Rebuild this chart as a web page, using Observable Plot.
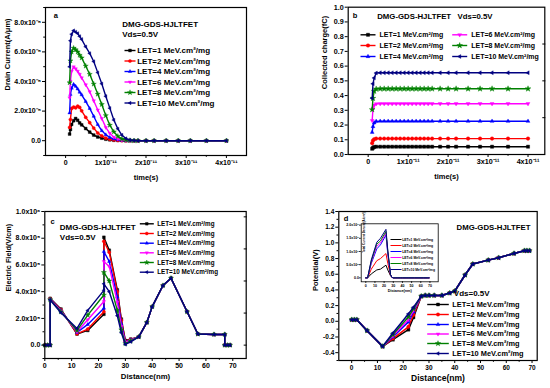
<!DOCTYPE html>
<html><head><meta charset="utf-8">
<script src="https://cdn.jsdelivr.net/npm/d3@7"></script>
<script src="https://cdn.jsdelivr.net/npm/@observablehq/plot@0.6"></script>
<style>
html,body{margin:0;padding:0;background:#fff;}
#wrap{position:relative;width:550px;height:388px;overflow:hidden;background:#fff;}
#wrap > div{position:absolute;}
svg{overflow:visible;}
</style></head><body><div id="wrap"></div>
<script>
// ---------- shared series info ----------
const letLabels = ["LET=1 MeV.cm²/mg","LET=2 MeV.cm²/mg","LET=4 MeV.cm²/mg","LET=6 MeV.cm²/mg","LET=8 MeV.cm²/mg","LET=10 MeV.cm²/mg"];
const seriesColors = ["#000000","#ff0000","#0000ff","#ff00ff","#008000","#000080"];
const seriesSymbols = ["square","circle","up","down","star","left"];

// ---------- panel a : drain current vs time ----------
const timeA = [0.1,0.12,0.15,0.2,0.25,0.3,0.35,0.4,0.5,0.6,0.7,0.8,0.9,1.0,1.1,1.2,1.3,1.4,1.5,1.6,1.7,1.8,2.0,2.2,2.5,2.8,3.1,3.5,4.0]; // x1e-11 s
const currentLET1  = [0.45,0.75,1.1,1.35,1.5,1.38,1.2,1.07,0.82,0.58,0.38,0.25,0.17,0.1,0.06,0.03,0.02,0.01, 0,0,0,0,0,0,0,0,0,0,0]; // x1e-5 A/um
const currentLET2  = [0.9,1.43,2.18,2.27,2.22,2.33,2.25,2.02,1.58,1.22,0.85,0.52,0.32,0.17,0.09,0.05,0.02,0.01, 0,0,0,0,0,0,0,0,0,0,0];
const currentLET4  = [1.88,3.13,3.55,3.81,3.68,3.5,3.28,3.1,2.65,2.18,1.65,1.09,0.68,0.4,0.22,0.11,0.06,0.03,0.01, 0,0,0,0,0,0,0,0,0,0];
const currentLET6  = [2.9,4.03,4.7,4.99,4.86,4.7,4.49,4.25,3.78,3.31,2.7,2.08,1.5,0.9,0.5,0.24,0.11,0.05,0.02, 0,0,0,0,0,0,0,0,0,0];
const currentLET8  = [3.92,5.4,6.0,6.26,6.15,6.0,5.78,5.6,5.05,4.49,3.83,3.15,2.45,1.7,1.05,0.6,0.3,0.12,0.05,0.02, 0,0,0,0,0,0,0,0,0];
const currentLET10 = [4.99,6.76,7.2,7.44,7.35,7.25,7.05,6.85,6.35,5.9,5.35,4.6,3.85,3.0,2.2,1.4,0.8,0.38,0.15,0.05,0.02, 0,0,0,0,0,0,0,0];
const currentTicks = [0,2e-5,4e-5,6e-5,8e-5];
const currentTickLabels = ["0.0","2.0x10⁻⁵","4.0x10⁻⁵","6.0x10⁻⁵","8.0x10⁻⁵"];
const currentMinor = [-1e-5,1e-5,3e-5,5e-5,7e-5,9e-5];
const timeTicks = [0,1e-11,2e-11,3e-11,4e-11];
const timeTickLabels = ["0","1x10⁻¹¹","2x10⁻¹¹","3x10⁻¹¹","4x10⁻¹¹"];
const timeMinor = [0.5e-11,1.5e-11,2.5e-11,3.5e-11];

// ---------- panel b : collected charge vs time ----------
const timeB = [0.1,0.12,0.15,0.2,0.3,0.4,0.5,0.6,0.7,0.8,0.9,1.0,1.1,1.2,1.3,1.4,1.5,1.6,1.8,2.0,2.2,2.5,2.8,3.1,3.5,4.0]; // x1e-11 s
const chargeLET1  = [0.039,0.046,0.051,0.053, 0.053,0.053,0.053,0.053,0.053,0.053,0.053,0.053,0.053,0.053,0.053,0.053,0.053,0.053,0.053,0.053,0.053,0.053,0.053,0.053,0.053,0.053];
const chargeLET2  = [0.077,0.095,0.104,0.108, 0.108,0.108,0.108,0.108,0.108,0.108,0.108,0.108,0.108,0.108,0.108,0.108,0.108,0.108,0.108,0.108,0.108,0.108,0.108,0.108,0.108,0.108];
const chargeLET4  = [0.151,0.19,0.215,0.225, 0.226,0.226,0.226,0.226,0.226,0.226,0.226,0.226,0.226,0.226,0.226,0.226,0.226,0.226,0.226,0.226,0.226,0.226,0.226,0.226,0.226,0.226];
const chargeLET6  = [0.23,0.31,0.335,0.344, 0.345,0.345,0.345,0.345,0.345,0.345,0.345,0.345,0.345,0.345,0.345,0.345,0.345,0.345,0.345,0.345,0.345,0.345,0.345,0.345,0.345,0.345];
const chargeLET8  = [0.305,0.382,0.43,0.445, 0.446,0.446,0.446,0.446,0.446,0.446,0.446,0.446,0.446,0.446,0.446,0.446,0.446,0.446,0.446,0.446,0.446,0.446,0.446,0.446,0.446,0.446];
const chargeLET10 = [0.382,0.48,0.52,0.553, 0.555,0.555,0.555,0.555,0.555,0.555,0.555,0.555,0.555,0.555,0.555,0.555,0.555,0.555,0.555,0.555,0.555,0.555,0.555,0.555,0.555,0.555];
const chargeTicks = [0,0.1,0.2,0.3,0.4,0.5,0.6,0.7,0.8,0.9,1.0];
const chargeTickLabels = ["0.0","0.1","0.2","0.3","0.4","0.5","0.6","0.7","0.8","0.9","1.0"];
const chargeRightTicks = [0.25,0.5,0.75];

// ---------- panel c : electric field vs distance ----------
const distC = [0,1,2,2,6,12,16,22,22,24,27,28.5,30,32,35,38,40,44,47,53,57,63,67,67,68,69]; // nm
const fieldLET1  = [0,0,0,3.5,2.7,0.83,1.1,2.31,8.07,7.1,4.14,1.95,0.35,0.45,0.62,1.7,2.88,4.46,5.01,2.5,0.83,0.8,0.8,0,0,0]; // x1e5 V/cm
const fieldLET2  = [0,0,0,3.48,2.65,0.85,1.2,2.5,7.77,6.95,4.0,1.85,0.3,0.43,0.62,1.7,2.88,4.46,5.01,2.5,0.83,0.8,0.8,0,0,0];
const fieldLET4  = [0,0,0,3.45,2.6,0.95,1.55,2.76,7.0,6.26,3.6,1.6,0.25,0.4,0.62,1.7,2.88,4.46,5.01,2.5,0.83,0.8,0.8,0,0,0];
const fieldLET6  = [0,0,0,3.42,2.55,1.0,1.9,3.26,6.26,5.89,3.2,1.4,0.2,0.37,0.62,1.7,2.88,4.46,5.01,2.5,0.83,0.8,0.8,0,0,0];
const fieldLET8  = [0,0,0,3.4,2.5,1.1,2.25,3.75,5.44,4.81,2.6,1.15,0.12,0.32,0.62,1.7,2.88,4.46,5.01,2.5,0.83,0.8,0.8,0,0,0];
const fieldLET10 = [0,0,0,3.38,2.42,1.25,2.6,4.1,4.59,4.0,2.2,0.93,0.05,0.25,0.62,1.7,2.88,4.46,5.01,2.5,0.83,0.8,0.8,0,0,0];
const fieldTicks = [0,2e5,4e5,6e5,8e5,1e6];
const fieldTickLabels = ["0.0","2.0x10⁵","4.0x10⁵","6.0x10⁵","8.0x10⁵","1.0x10⁶"];
const fieldMinor = [-1e5,1e5,3e5,5e5,7e5,9e5];
const fieldRightTicks = [0,2.4e5,4.8e5,7.2e5,9.6e5];
const distTicks = [0,10,20,30,40,50,60,70];
const distTickLabels = ["0","10","20","30","40","50","60","70"];
const distMinor = [5,15,25,35,45,55,65];

// ---------- panel d : potential vs distance ----------
const distD = [0,1,2,6,12,16,22,24,27,28.5,30,32,35,38,40,44,47,53,57,63,67,68,69]; // nm
const potLET1  = [0.02,0.02,0.02,-0.12,-0.32,-0.235,-0.107,0.05,0.32,0.33,0.33,0.33,0.33,0.36,0.385,0.59,0.73,0.78,0.81,0.865,0.9,0.9,0.9]; // V
const potLET2  = [0.02,0.02,0.02,-0.12,-0.32,-0.22,-0.07,0.08,0.32,0.33,0.33,0.33,0.33,0.36,0.385,0.59,0.73,0.78,0.81,0.865,0.9,0.9,0.9];
const potLET4  = [0.02,0.02,0.02,-0.12,-0.32,-0.2,-0.01,0.12,0.32,0.33,0.33,0.33,0.33,0.36,0.385,0.59,0.73,0.78,0.81,0.865,0.9,0.9,0.9];
const potLET6  = [0.02,0.02,0.02,-0.12,-0.32,-0.185,0.02,0.14,0.32,0.33,0.33,0.33,0.33,0.36,0.385,0.59,0.73,0.78,0.81,0.865,0.9,0.9,0.9];
const potLET8  = [0.02,0.02,0.02,-0.12,-0.32,-0.17,0.055,0.16,0.32,0.33,0.33,0.33,0.33,0.36,0.385,0.59,0.73,0.78,0.81,0.865,0.9,0.9,0.9];
const potLET10 = [0.02,0.02,0.02,-0.12,-0.32,-0.15,0.094,0.18,0.32,0.33,0.33,0.33,0.33,0.36,0.385,0.59,0.73,0.78,0.81,0.865,0.9,0.9,0.9];
const potTicks = [-0.4,-0.2,0,0.2,0.4,0.6,0.8,1.0,1.2,1.4];
const potTickLabels = ["-0.4","-0.2","0.0","0.2","0.4","0.6","0.8","1.0","1.2","1.4"];
const potMinor = [-0.5,-0.3,-0.1,0.1,0.3,0.5,0.7,0.9,1.1,1.3];

// ---------- panel d inset : total current density vs distance ----------
const densLET1  = [0,0,0,0.15,0.3,0.33,0.48,0.3,0.08,0.02,0,0,0,0,0,0,0,0,0,0,0,0,0]; // x1e6 A/cm2
const densLET2  = [0,0,0,0.33,0.65,0.73,0.92,0.55,0.1,0.02,0,0,0,0,0,0,0,0,0,0,0,0,0];
const densLET4  = [0,0,0,0.55,1.1,1.25,1.62,0.9,0.12,0.02,0,0,0,0,0,0,0,0,0,0,0,0,0];
const densLET6  = [0,0,0,0.6,1.2,1.32,1.7,0.95,0.12,0.02,0,0,0,0,0,0,0,0,0,0,0,0,0];
const densLET8  = [0,0,0,0.64,1.28,1.4,1.76,1.0,0.12,0.02,0,0,0,0,0,0,0,0,0,0,0,0,0];
const densLET10 = [0,0,0,0.68,1.35,1.5,1.84,1.05,0.12,0.02,0,0,0,0,0,0,0,0,0,0,0,0,0];
const densTicks = [0,0.5e6,1.0e6,1.5e6,2.0e6];
const densTickLabels = ["0.0","5.0x10⁵","1.0x10⁶","1.5x10⁶","2.0x10⁶"];

// ---------- helpers ----------
const FONT = "'Liberation Sans', Arial, Helvetica, sans-serif";
function toRows(xs, seriesArrays, xScale, yScale) {
  const rows = [];
  seriesArrays.forEach((arr, i) => arr.forEach((v, j) => rows.push({series: letLabels[i], x: xs[j] * xScale, y: v * yScale})));
  return rows;
}
function fmt(values, labels) { return v => { const i = values.findIndex(u => Math.abs(u - v) <= Math.abs(u) * 1e-9 + 1e-15); return i < 0 ? "" : labels[i]; }; }
const blank = () => "";
function makeSymbol(kind) {
  if (kind === "star") return d3.symbolStar;
  return {draw(ctx, size) {
    const r = Math.sqrt(size / Math.PI);
    if (kind === "square") { const s = r * 0.88; ctx.moveTo(-s,-s); ctx.lineTo(s,-s); ctx.lineTo(s,s); ctx.lineTo(-s,s); ctx.closePath(); }
    else if (kind === "circle") { ctx.moveTo(r,0); ctx.arc(0,0,r,0,2*Math.PI); }
    else if (kind === "up") { const k = r*1.25; ctx.moveTo(0,-k); ctx.lineTo(k*0.866,k*0.5); ctx.lineTo(-k*0.866,k*0.5); ctx.closePath(); }
    else if (kind === "down") { const k = r*1.25; ctx.moveTo(0,k); ctx.lineTo(k*0.866,-k*0.5); ctx.lineTo(-k*0.866,-k*0.5); ctx.closePath(); }
    else if (kind === "left") { const k = r*1.25; ctx.moveTo(-k,0); ctx.lineTo(k*0.5,-k*0.866); ctx.lineTo(k*0.5,k*0.866); ctx.closePath(); }
  }};
}
function dash(half) { return {draw(ctx) { ctx.moveTo(-half,0); ctx.lineTo(half,0); }}; }
const symbolObjs = seriesSymbols.map(makeSymbol);

function seriesMarks(rows, {r = 1.6, sw = 1.2, dots = true} = {}) {
  const marks = [];
  letLabels.forEach((lab, i) => {
    const data = rows.filter(d => d.series === lab);
    marks.push(Plot.line(data, {x: "x", y: "y", stroke: seriesColors[i], strokeWidth: sw}));
    if (dots) marks.push(Plot.dot(data, {x: "x", y: "y", symbol: symbolObjs[i], fill: seriesColors[i], stroke: seriesColors[i], strokeWidth: 0.4, r}));
  });
  return marks;
}
function legendMarks(items, {lineDx, half, textDx, dys, fontSize, r = 1.6, sw = 1.4, dots = true, colDx = null}) {
  const marks = [];
  items.forEach((i, k) => {
    const lab = letLabels[i];
    const off = colDx ? colDx[k] : 0;
    const dy = dys[k];
    marks.push(Plot.dot([lab], {frameAnchor: "top-left", dx: lineDx + off, dy, symbol: dash(half), fill: "none", stroke: seriesColors[i], strokeWidth: sw, r: 1}));
    if (dots) marks.push(Plot.dot([lab], {frameAnchor: "top-left", dx: lineDx + off, dy, symbol: symbolObjs[i], fill: seriesColors[i], stroke: seriesColors[i], strokeWidth: 0.4, r}));
    marks.push(Plot.text([lab], {frameAnchor: "top-left", dx: textDx + off, dy, text: d => d, textAnchor: "start", lineAnchor: "middle", fontSize, fontWeight: "bold", fill: "black"}));
  });
  return marks;
}
function label(txt, o) {
  return Plot.text([txt], {text: d => d, fontWeight: "bold", fill: "black", lineAnchor: "middle", ...o});
}
// ticks through Plot axes; tick labels as text marks positioned by the same scales
function axes({xTicks, xLabels, xMinor, yTicks, yLabels, yMinor, rightTicks, tf, tsz = 3, pad = 1.5}) {
  const m = [
    Plot.axisX({anchor: "bottom", ticks: xTicks, tickFormat: blank, tickSize: tsz, label: null, strokeWidth: 1}),
    Plot.axisY({anchor: "left", ticks: yTicks, tickFormat: blank, tickSize: tsz, label: null, strokeWidth: 1}),
    Plot.text(xTicks, {x: d => d, text: fmt(xTicks, xLabels), frameAnchor: "bottom", dy: tsz + pad, lineAnchor: "top", textAnchor: "middle", fontSize: tf, fontWeight: "bold", fill: "black"}),
    Plot.text(yTicks, {y: d => d, text: fmt(yTicks, yLabels), frameAnchor: "left", dx: -(tsz + pad), lineAnchor: "middle", textAnchor: "end", fontSize: tf, fontWeight: "bold", fill: "black"})
  ];
  if (xMinor) m.push(Plot.axisX({anchor: "bottom", ticks: xMinor, tickFormat: blank, tickSize: tsz * 0.6, label: null, strokeWidth: 1}));
  if (yMinor) m.push(Plot.axisY({anchor: "left", ticks: yMinor, tickFormat: blank, tickSize: tsz * 0.6, label: null, strokeWidth: 1}));
  if (rightTicks) m.push(Plot.axisY({anchor: "right", ticks: rightTicks, tickFormat: blank, tickSize: tsz, dx: -tsz, label: null, strokeWidth: 1}));
  return m;
}
function place(node, left, top) {
  const div = document.createElement("div");
  div.style.left = left + "px"; div.style.top = top + "px";
  div.appendChild(node);
  document.getElementById("wrap").appendChild(div);
}
const baseStyle = {fontFamily: FONT, fontWeight: "bold", color: "black", background: "transparent", overflow: "visible"};

// ---------- panel a ----------
const rowsA = toRows(timeA, [currentLET1,currentLET2,currentLET4,currentLET6,currentLET8,currentLET10], 1e-11, 1e-5);
place(Plot.plot({
  width: 275, height: 194, marginLeft: 45, marginRight: 29, marginTop: 7, marginBottom: 39,
  style: baseStyle,
  x: {domain: [-0.5e-11, 4.5e-11], label: null},
  y: {domain: [-1e-5, 9e-5], label: null},
  marks: [
    ...seriesMarks(rowsA, {r: 1.6, sw: 1.4}),
    ...axes({xTicks: timeTicks, xLabels: timeTickLabels, xMinor: timeMinor, yTicks: currentTicks, yLabels: currentTickLabels, yMinor: currentMinor, tf: 7}),
    Plot.frame({stroke: "black", strokeWidth: 1.2}),
    label("a", {frameAnchor: "top-left", dx: 8.3, dy: 8, fontSize: 7.5, textAnchor: "start"}),
    label("DMG-GDS-HJLTFET", {frameAnchor: "top-left", dx: 76.7, dy: 17, fontSize: 8, textAnchor: "start"}),
    label("Vds=0.5V", {frameAnchor: "top-left", dx: 76.7, dy: 26.5, fontSize: 8, textAnchor: "start"}),
    ...legendMarks([0,1,2,3,4,5], {lineDx: 84.5, half: 5.5, textDx: 91.7, dys: [43,53.5,64,74.5,85,95.5], fontSize: 8, r: 1.6}),
    label("time(s)", {frameAnchor: "bottom", dy: 21.7, fontSize: 7.5}),
    label("Drain Current(A/μm)", {frameAnchor: "left", dx: -38.3, dy: 9, rotate: -90, fontSize: 7.5})
  ]
}), 0, 0);

// ---------- panel b ----------
const rowsB = toRows(timeB, [chargeLET1,chargeLET2,chargeLET4,chargeLET6,chargeLET8,chargeLET10], 1e-11, 1);
place(Plot.plot({
  width: 275, height: 194, marginLeft: 72.7, marginRight: 5.7, marginTop: 6.7, marginBottom: 40,
  style: baseStyle,
  x: {domain: [-0.5e-11, 4.42e-11], label: null},
  y: {domain: [0, 1.0], label: null},
  marks: [
    ...seriesMarks(rowsB, {r: 1.8, sw: 1.4}),
    ...axes({xTicks: timeTicks, xLabels: timeTickLabels, xMinor: timeMinor, yTicks: chargeTicks, yLabels: chargeTickLabels, rightTicks: chargeRightTicks, tf: 7.2}),
    Plot.frame({stroke: "black", strokeWidth: 1.2}),
    label("b", {frameAnchor: "top-left", dx: 4.6, dy: 8.3, fontSize: 7.5, textAnchor: "start"}),
    label("DMG-GDS-HJLTFET   Vds=0.5V", {frameAnchor: "top-left", dx: 29, dy: 9.3, fontSize: 7.8, textAnchor: "start"}),
    ...legendMarks([0,1,2,3,4,5], {lineDx: 19.8, half: 7.5, textDx: 31.3, dys: [27.6,38.3,49.3,27.6,38.3,49.3], colDx: [0,0,0,91.7,91.7,91.7], fontSize: 7, r: 1.8}),
    label("time(s)", {frameAnchor: "bottom", dy: 22, fontSize: 7.5}),
    label("Collected charge(fC)", {frameAnchor: "left", dx: -23.4, dy: 8.3, rotate: -90, fontSize: 7.5})
  ]
}), 275, 0);

// ---------- panel c ----------
const rowsC = toRows(distC, [fieldLET1,fieldLET2,fieldLET4,fieldLET6,fieldLET8,fieldLET10], 1, 1e5);
place(Plot.plot({
  width: 275, height: 194, marginLeft: 44.3, marginRight: 29.3, marginTop: 17, marginBottom: 30,
  style: baseStyle,
  x: {domain: [0, 75], label: null},
  y: {domain: [-1e5, 1e6], label: null},
  marks: [
    ...seriesMarks(rowsC, {r: 1.6, sw: 1.4}),
    ...axes({xTicks: distTicks, xLabels: distTickLabels, xMinor: distMinor, yTicks: fieldTicks, yLabels: fieldTickLabels, yMinor: fieldMinor, rightTicks: fieldRightTicks, tf: 7}),
    Plot.frame({stroke: "black", strokeWidth: 1.2}),
    label("c", {frameAnchor: "top-left", dx: 5.7, dy: 9.7, fontSize: 7.5, textAnchor: "start"}),
    label("DMG-GDS-HJLTFET", {frameAnchor: "top-left", dx: 15, dy: 16.3, fontSize: 8, textAnchor: "start"}),
    label("Vds=0.5V", {frameAnchor: "top-left", dx: 15, dy: 26.3, fontSize: 8, textAnchor: "start"}),
    ...legendMarks([0,1,2,3,4,5], {lineDx: 102, half: 7, textDx: 112.4, dys: [12.3,22,31.7,41.3,51,60.7], fontSize: 6.3, r: 1.5}),
    label("Distance(nm)", {frameAnchor: "bottom", dy: 18.3, fontSize: 7.8}),
    label("Electric Field(V/cm)", {frameAnchor: "left", dx: -36, dy: 6.5, rotate: -90, fontSize: 7.3})
  ]
}), 0, 194);

// ---------- panel d ----------
const rowsD = toRows(distD, [potLET1,potLET2,potLET4,potLET6,potLET8,potLET10], 1, 1);
place(Plot.plot({
  width: 275, height: 194, marginLeft: 63.3, marginRight: 13.3, marginTop: 17, marginBottom: 28,
  style: baseStyle,
  x: {domain: [-5, 72], label: null},
  y: {domain: [-0.5, 1.4], label: null},
  marks: [
    ...seriesMarks(rowsD, {r: 1.7, sw: 1.5}),
    ...axes({xTicks: distTicks, xLabels: distTickLabels, xMinor: distMinor, yTicks: potTicks, yLabels: potTickLabels, yMinor: potMinor, tf: 6.5}),
    Plot.frame({stroke: "black", strokeWidth: 1.2}),
    label("d", {frameAnchor: "top-left", dx: 5, dy: 7, fontSize: 7.5, textAnchor: "start"}),
    label("DMG-GDS-HJLTFET", {frameAnchor: "top-right", dx: -6.7, dy: 16.3, fontSize: 7.8, textAnchor: "end"}),
    label("Vds=0.5V", {frameAnchor: "top-left", dx: 115, dy: 82, fontSize: 8, textAnchor: "start"}),
    ...legendMarks([0,1,2,3,4,5], {lineDx: 99.2, half: 10.8, textDx: 113.4, dys: [93,103,113,122.5,132,142], fontSize: 7.4, r: 1.7}),
    label("Distance(nm)", {frameAnchor: "bottom", dy: 18, fontSize: 8.5}),
    label("Potential(V)", {frameAnchor: "left", dx: -23.3, dy: 5, rotate: -90, fontSize: 7.5})
  ]
}), 275, 194);

// ---------- panel d inset ----------
const rowsI = toRows(distD, [densLET1,densLET2,densLET4,densLET6,densLET8,densLET10], 1, 1e6);
place(Plot.plot({
  width: 100, height: 76, marginLeft: 20.7, marginRight: 2.3, marginTop: 3.3, marginBottom: 14.7,
  style: {...baseStyle, background: "transparent"},
  x: {domain: [-5, 79], label: null},
  y: {domain: [-0.15e6, 2.05e6], label: null},
  marks: [
    Plot.frame({fill: "white"}),
    ...seriesMarks(rowsI, {sw: 1, dots: false}),
    ...axes({xTicks: distTicks, xLabels: distTickLabels, yTicks: densTicks, yLabels: densTickLabels, tf: 3.6, tsz: 1.5, pad: 0.8}),
    Plot.frame({stroke: "black", strokeWidth: 0.8}),
    ...legendMarks([0,1,2,3,4,5], {lineDx: 34.8, half: 5.5, textDx: 41, dys: [15.7,21.7,27.7,33.7,39.7,45.7], fontSize: 3.4, sw: 1, dots: false}),
    label("Distance(nm)", {frameAnchor: "bottom", dy: 9, fontSize: 3.8}),
    label("Total Current Density(A/cm²)", {frameAnchor: "left", dx: 3, dy: 0, rotate: -90, fontSize: 3})
  ]
}), 340, 220);
</script></body></html>
